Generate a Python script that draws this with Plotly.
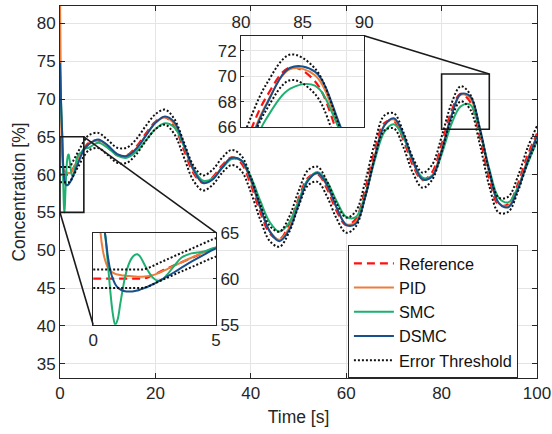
import plotly.graph_objects as go

# ---------------- data ----------------
time = [0, 0.1, 0.2, 0.3, 0.4, 0.5, 0.6, 0.7, 0.8, 0.9, 1.0, 1.1, 1.2, 1.3, 1.4,
        1.5, 1.6, 1.7, 1.8, 1.9, 2.0, 2.2, 2.4, 2.6, 2.8, 3.0, 3.3, 3.6, 4.0, 4.5,
        5.0,
        6, 8, 10, 12, 14, 16, 18, 20, 22, 24, 26, 28, 30, 32, 34, 36, 38, 40, 42,
        44, 46, 48, 50, 52, 54, 56, 58, 60, 62, 64, 66, 68, 70, 72, 74, 76, 78,
        80, 82, 84, 86, 88, 90, 92, 94, 96, 98, 100]

reference = [60, 60, 60, 60, 60, 60, 60, 60, 60, 60, 60, 60, 60, 60, 60,
             60, 60, 60, 60, 60, 60, 60.12, 60.35, 60.6, 60.85, 61.08, 61.45, 61.8, 62.25, 62.85,
             63.4,
             64.2, 64.52, 63.59, 62.56, 62.56, 63.7, 65.45, 66.99, 67.6, 66.33, 63.25, 60.17, 58.9,
             59.65, 61.25, 62.27, 61.51, 58.68, 55.02, 52.2, 51.46, 53.34, 56.78, 59.59, 60.04,
             58.09, 55.17, 53.32, 54.13, 58.11, 63.23, 66.82, 67.1, 64.6, 61.2, 59.26, 60.29,
             63.99, 68.28, 70.69, 69.61, 65.04, 59.48, 55.95, 56.09, 58.77, 62.5, 65.44]

pid = [84, 77, 70.5, 65.0, 63.0, 61.9, 61.2, 60.85, 60.65, 60.52, 60.45, 60.4, 60.36, 60.33, 60.3,
       60.28, 60.26, 60.24, 60.22, 60.22, 60.22, 60.26, 60.36, 60.55, 60.78, 61.02, 61.4, 61.78, 62.28, 62.85,
       63.4,
       64.02, 64.59, 63.77, 62.66, 62.47, 63.46, 65.18, 66.82, 67.59, 66.69, 63.76, 60.53, 58.91,
       59.44, 61.02, 62.22, 61.8, 59.2, 55.55, 52.49, 51.37, 52.89, 56.26, 59.32, 60.18,
       58.5, 55.58, 53.44, 53.74, 57.36, 62.51, 66.51, 67.3, 65.1, 61.65, 59.35, 59.9,
       63.32, 67.72, 70.56, 70.08, 65.88, 60.23, 56.21, 55.85, 58.25, 61.95, 65.14]

smc = [74.0, 72.0, 70.0, 68.0, 66.4, 64.5, 61.6, 58.6, 56.2, 55.0, 55.6, 57.2, 58.8, 60.2, 61.2,
       61.9, 62.35, 62.6, 62.65, 62.45, 62.0, 61.0, 60.2, 59.8, 59.9, 60.4, 61.4, 62.3, 62.75, 62.95,
       63.4,
       63.55, 64.2, 63.54, 62.51, 62.23, 63.03, 64.52, 66.02, 66.78, 66.23, 63.74, 60.81, 59.18,
       59.51, 60.89, 62.05, 61.87, 59.73, 56.51, 53.69, 52.46, 53.6, 56.51, 59.36, 60.36,
       59.05, 56.47, 54.42, 54.38, 57.36, 61.92, 65.66, 66.67, 64.91, 61.84, 59.6, 59.8,
       62.65, 66.59, 69.02, 69.26, 65.79, 60.77, 56.93, 56.33, 58.35, 61.4, 64.48]

dsmc = [74.8, 72.5, 70.0, 68.0, 66.3, 64.6, 62.4, 60.9, 60.0, 59.4, 59.05, 58.85, 58.72, 58.64, 58.6,
        58.6, 58.62, 58.66, 58.72, 58.8, 58.9, 59.1, 59.35, 59.62, 59.92, 60.22, 60.7, 61.2, 61.85, 62.6,
        63.3,
        64.0, 64.66, 63.87, 62.72, 62.46, 63.42, 65.15, 66.85, 67.68, 66.9, 63.97, 60.64, 58.89,
        59.35, 60.94, 62.23, 61.91, 59.36, 55.64, 52.46, 51.2, 52.62, 56.01, 59.2, 60.22,
        58.6, 55.63, 53.36, 53.5, 57.05, 62.29, 66.5, 67.46, 65.33, 61.81, 59.36, 59.75,
        63.13, 67.64, 70.66, 70.36, 66.24, 60.47, 56.22, 55.69, 58.04, 61.78, 65.1]

threshold_upper = [61, 61, 61, 61, 61, 61, 61, 61, 61, 61, 61, 61, 61, 61, 61,
                   61, 61, 61, 61, 61, 61, 61.12, 61.35, 61.6, 61.85, 62.08, 62.45, 62.8, 63.25, 63.85,
                   64.4,
                   65.2, 65.52, 64.59, 63.56, 63.56, 64.7, 66.45, 67.99, 68.6, 67.33, 64.25, 61.17, 59.9,
                   60.65, 62.25, 63.27, 62.51, 59.68, 56.02, 53.2, 52.46, 54.34, 57.78, 60.59, 61.04,
                   59.09, 56.17, 54.32, 55.13, 59.11, 64.23, 67.82, 68.1, 65.6, 62.2, 60.26, 61.29,
                   64.99, 69.28, 71.69, 70.61, 66.04, 60.48, 56.95, 57.09, 59.77, 63.5, 66.44]

threshold_lower = [59, 59, 59, 59, 59, 59, 59, 59, 59, 59, 59, 59, 59, 59, 59,
                   59, 59, 59, 59, 59, 59, 59.12, 59.35, 59.6, 59.85, 60.08, 60.45, 60.8, 61.25, 61.85,
                   62.4,
                   63.2, 63.52, 62.59, 61.56, 61.56, 62.7, 64.45, 65.99, 66.6, 65.33, 62.25, 59.17, 57.9,
                   58.65, 60.25, 61.27, 60.51, 57.68, 54.02, 51.2, 50.46, 52.34, 55.78, 58.59, 59.04,
                   57.09, 54.17, 52.32, 53.13, 57.11, 62.23, 65.82, 66.1, 63.6, 60.2, 58.26, 59.29,
                   62.99, 67.28, 69.69, 68.61, 64.04, 58.48, 54.95, 55.09, 57.77, 61.5, 64.44]

x_ticks = [0, 20, 40, 60, 80, 100]
y_ticks = [35, 40, 45, 50, 55, 60, 65, 70, 75, 80]
inset1_xticks = [0, 5]
inset1_yticks = [55, 60, 65]
inset2_xticks = [80, 85, 90]
inset2_yticks = [66, 68, 70, 72]

# ---------------- styling ----------------
X_RANGE = [0, 100]
Y_RANGE = [33.1, 82.3]
IN1_X, IN1_Y = [0, 5], [55, 65]
IN2_X, IN2_Y = [80, 90], [66, 73.17]
IN1_DOM_X, IN1_DOM_Y = [0.0695, 0.327], [0.1433, 0.3906]
IN2_DOM_X, IN2_DOM_Y = [0.3795, 0.6377], [0.6739, 0.9202]

AX = "#262626"
GRID = "#E4E4E4"
FONT = "Liberation Sans, Arial, sans-serif"

styles = [
    ("Reference", reference, dict(color="#FF1010", width=2.2, dash="8px,5px")),
    ("PID", pid, dict(color="#EC7D3A", width=2)),
    ("SMC", smc, dict(color="#1DB070", width=2)),
    ("DSMC", dsmc, dict(color="#17508C", width=2)),
]
thr_line = dict(color="#111111", width=2, dash="2px,2px")

fig = go.Figure()
axes_sets = [("x", "y", True), ("x2", "y2", False), ("x3", "y3", False)]
for xa, ya, main in axes_sets:
    for name, vals, line in styles:
        fig.add_trace(go.Scatter(x=time, y=vals, name=name, mode="lines",
                                 line=dict(shape="spline", smoothing=1, **line),
                                 xaxis=xa, yaxis=ya, showlegend=main,
                                 hoverinfo="skip"))
    fig.add_trace(go.Scatter(x=time, y=threshold_upper, name="Error Threshold", mode="lines",
                             line=dict(shape="spline", smoothing=1, **thr_line),
                             xaxis=xa, yaxis=ya, showlegend=main,
                             hoverinfo="skip"))
    fig.add_trace(go.Scatter(x=time, y=threshold_lower, name="Error Threshold", mode="lines",
                             line=dict(shape="spline", smoothing=1, **thr_line),
                             xaxis=xa, yaxis=ya, showlegend=False,
                             hoverinfo="skip"))


def to_paper(x, y):
    return ((x - X_RANGE[0]) / (X_RANGE[1] - X_RANGE[0]),
            (y - Y_RANGE[0]) / (Y_RANGE[1] - Y_RANGE[0]))


shapes = []
box_line = dict(color="#1a1a1a", width=1.6)
shapes.append(dict(type="rect", xref="x", yref="y", x0=IN1_X[0], x1=IN1_X[1],
                   y0=IN1_Y[0], y1=IN1_Y[1], line=box_line))
shapes.append(dict(type="rect", xref="x", yref="y", x0=IN2_X[0], x1=IN2_X[1],
                   y0=IN2_Y[0], y1=73.3, line=box_line))
p = to_paper(IN1_X[1], IN1_Y[1])
shapes.append(dict(type="line", xref="paper", yref="paper", x0=p[0], y0=p[1],
                   x1=IN1_DOM_X[1], y1=IN1_DOM_Y[1], line=box_line))
p = to_paper(IN1_X[0], IN1_Y[0])
shapes.append(dict(type="line", xref="paper", yref="paper", x0=p[0], y0=p[1],
                   x1=IN1_DOM_X[0], y1=IN1_DOM_Y[0], line=box_line))
p = to_paper(IN2_X[1], 73.3)
shapes.append(dict(type="line", xref="paper", yref="paper", x0=IN2_DOM_X[1], y0=IN2_DOM_Y[1],
                   x1=p[0], y1=p[1], line=box_line))

common = dict(showline=True, linecolor=AX, linewidth=1, ticks="inside", tickcolor=AX,
              zeroline=False, gridcolor=GRID, tickfont=dict(size=17, color=AX),
              automargin=False)

fig.update_layout(
    width=552, height=434,
    margin=dict(l=60, r=15, t=6, b=56, autoexpand=False),
    paper_bgcolor="white", plot_bgcolor="rgba(0,0,0,0)",
    font=dict(family=FONT, size=17, color=AX),
    showlegend=True,
    legend=dict(x=0.6036, y=0.3567, xanchor="left", yanchor="top",
                bgcolor="white", bordercolor=AX, borderwidth=1,
                font=dict(size=16.3, color="#111111"), tracegroupgap=0,
                itemwidth=40),
    xaxis=dict(domain=[0, 1], range=X_RANGE, tickvals=x_ticks, mirror="ticks", ticklen=5,
               showgrid=True, anchor="y",
               title=dict(text="Time [s]", font=dict(size=17.5, color=AX), standoff=8), **common),
    yaxis=dict(domain=[0, 1], range=Y_RANGE, tickvals=y_ticks, mirror="ticks", ticklen=5,
               showgrid=True, anchor="x",
               title=dict(text="Concentration [%]", font=dict(size=17.5, color=AX), standoff=6), **common),
    xaxis2=dict(domain=IN1_DOM_X, range=IN1_X, tickvals=inset1_xticks, anchor="y2",
                mirror=True, ticklen=3, showgrid=False, **common),
    yaxis2=dict(domain=IN1_DOM_Y, range=IN1_Y, tickvals=inset1_yticks, anchor="x2",
                side="right", mirror=True, ticklen=3, showgrid=True, **common),
    xaxis3=dict(domain=IN2_DOM_X, range=IN2_X, tickvals=inset2_xticks, anchor="y3",
                side="top", mirror=True, ticklen=3, showgrid=True, **common),
    yaxis3=dict(domain=IN2_DOM_Y, range=IN2_Y, tickvals=inset2_yticks, anchor="x3",
                mirror=True, ticklen=3, showgrid=True, **common),
    shapes=shapes,
)

fig.write_html("out.html", config={"displayModeBar": False},
               post_script="document.body.style.margin='0';document.body.style.padding='0';")
